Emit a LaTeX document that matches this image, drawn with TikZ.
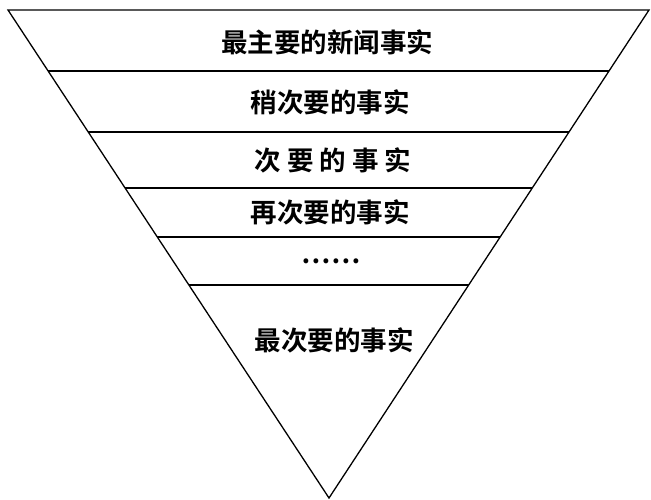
\documentclass[tikz,border=0pt]{standalone}
\usepackage{fontspec}
\newfontfamily\cjk{Noto Sans CJK SC Bold}
\usepackage{tikz}
\usetikzlibrary{calc,positioning}

\begin{document}
\begin{tikzpicture}[x=1pt,y=-1pt,line width=1.3pt,
    fact/.style={font=\cjk\fontsize{26.5}{26.5}\selectfont,inner sep=0pt}]
 	 	\useasboundingbox (0,0) rectangle (651,499);
 	 	\coordinate (TL) at (8,10);
 	 	\coordinate (TR) at (649,10);
 	 	\coordinate (V) at (329,498);
 	 	% the funnel
 	 	\draw (TL) -- (TR) -- (V) -- cycle;
 	 	\foreach \t in {0.125,0.25,0.365,0.465,0.5635}
 	 		\draw ($(TL)!\t!(V)$) -- ($(TR)!\t!(V)$);
 	 	\node[fact] (A) at (327,42) {最主要的新闻事实};
 	 	\node[fact] (B) at (330,102) {稍次要的事实};
 	 	\node[fact] (C) at (333,160) {次 要 的 事 实};
 	 	\node[fact] (D) at (330,212) {再次要的事实};
 	 	\node[fact] (E) at (331,261) {……};
 	 	\node[fact] (F) at (334,340) {最次要的事实};
\end{tikzpicture}
\end{document}
